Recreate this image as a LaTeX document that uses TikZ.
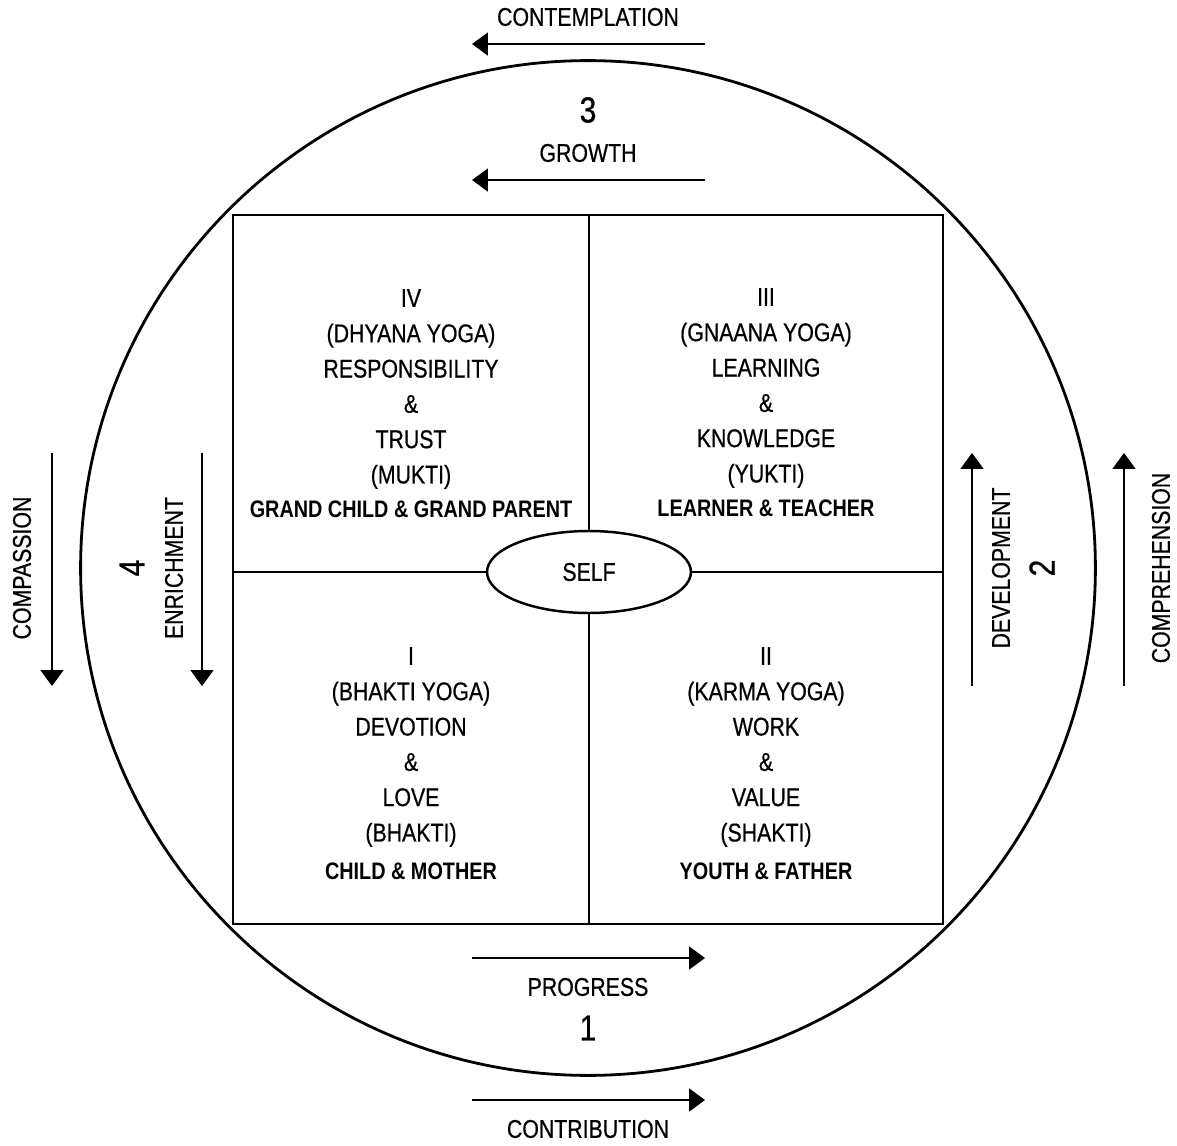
\documentclass[tikz,border=0pt]{standalone}
\usepackage{fontspec}
\setmainfont{Liberation Sans}[FakeStretch=0.83,UprightFeatures={FakeBold=0.6}]
\usetikzlibrary{arrows.meta,shapes.geometric}

\tikzset{
  ring/.style={draw,line width=1.6pt},
  flow/.style={line width=0.9pt,-{Triangle[length=9pt,width=13pt]}},
  lbl/.style={inner sep=0,font=\fontsize{14.6}{20}\selectfont},
  yoga/.style={inner sep=0,align=center,font=\fontsize{14.6}{20.1}\selectfont},
  pair/.style={inner sep=0,font=\bfseries\fontsize{13.6}{16}\selectfont},
  num/.style={inner sep=0,font=\fontsize{20.6}{24}\selectfont}
}

\begin{document}
\begin{tikzpicture}[x=0.02cm,y=-0.02cm]
  \useasboundingbox (0,0) rectangle (1177,1146);
  %% Circle, square and the self in the middle.
  \node[ring,circle,minimum size=20.3cm] (wheel) at (588,568) {};
  \node[ring,rectangle,minimum width=14.2cm,minimum height=14.18cm] (box) at (588,569.5) {};
  \node[ring,ellipse,line width=1.4pt,minimum width=4.08cm,minimum height=1.64cm,lbl] (self) at (589,572) {SELF};

  \draw[ring] (box.north -| self.north) -- (self.north);
  \draw[ring] (self.south) -- (box.south -| self.south);
  \draw[ring] (box.west |- self.west) -- (self.west);
  \draw[ring] (self.east) -- (box.east |- self.east);

  %% Upper quadrants.
  \node[yoga] (q4) at (411,389) {IV\\(DHYANA YOGA)\\RESPONSIBILITY\\\&\\TRUST\\(MUKTI)};
  \node[pair] (r4) at (411,509) {GRAND CHILD \& GRAND PARENT};
  \node[yoga] (q3) at (766,388) {III\\(GNAANA YOGA)\\LEARNING\\\&\\KNOWLEDGE\\(YUKTI)};
  \node[pair] (r3) at (766,508) {LEARNER \& TEACHER};
  %% Lower quadrants.
  \node[yoga] (q1) at (411,747) {I\\(BHAKTI YOGA)\\DEVOTION\\\&\\LOVE\\(BHAKTI)};
  \node[pair] (r1) at (411,871) {CHILD \& MOTHER};
  \node[yoga] (q2) at (766,747) {II\\(KARMA YOGA)\\WORK\\\&\\VALUE\\(SHAKTI)};
  \node[pair] (r2) at (766,871) {YOUTH \& FATHER};

  %% Top: 3.
  \node[lbl] (contemplation) at (588,17) {CONTEMPLATION};
  \coordinate (ct0) at (705,44);
  \coordinate (ct1) at (472,44);
  \node[num] (n3) at (588,110) {3};
  \node[lbl] (growth) at (588,153) {GROWTH};
  \coordinate (gr0) at (705,180);
  \coordinate (gr1) at (472,180);
  \draw[flow] (ct0) -- (ct1);
  \draw[flow] (gr0) -- (gr1);

  %% Bottom: 1.
  \coordinate (pr0) at (472,958);
  \coordinate (pr1) at (705,958);
  \node[lbl] (progress) at (588,987) {PROGRESS};
  \node[num] (n1) at (588,1028) {1};
  \coordinate (co0) at (472,1100);
  \coordinate (co1) at (705,1100);
  \node[lbl] (contribution) at (588,1129) {CONTRIBUTION};
  \draw[flow] (pr0) -- (pr1);
  \draw[flow] (co0) -- (co1);

  %% Left: 4.
  \node[lbl,rotate=90] (compassion) at (22,568) {COMPASSION};
  \coordinate (cm0) at (52,453);
  \coordinate (cm1) at (52,686);
  \node[num,rotate=90] (n4) at (132,568) {4};
  \node[lbl,rotate=90] (enrichment) at (174,568) {ENRICHMENT};
  \coordinate (en0) at (202,453);
  \coordinate (en1) at (202,686);
  \draw[flow] (cm0) -- (cm1);
  \draw[flow] (en0) -- (en1);

  %% Right: 2.
  \coordinate (dv0) at (972,686);
  \coordinate (dv1) at (972,453);
  \node[lbl,rotate=90] (development) at (1001,568) {DEVELOPMENT};
  \node[num,rotate=90] (n2) at (1042,568) {2};
  \coordinate (cr0) at (1124,686);
  \coordinate (cr1) at (1124,453);
  \node[lbl,rotate=90] (comprehension) at (1161,568) {COMPREHENSION};
  \draw[flow] (dv0) -- (dv1);
  \draw[flow] (cr0) -- (cr1);
\end{tikzpicture}
\end{document}
